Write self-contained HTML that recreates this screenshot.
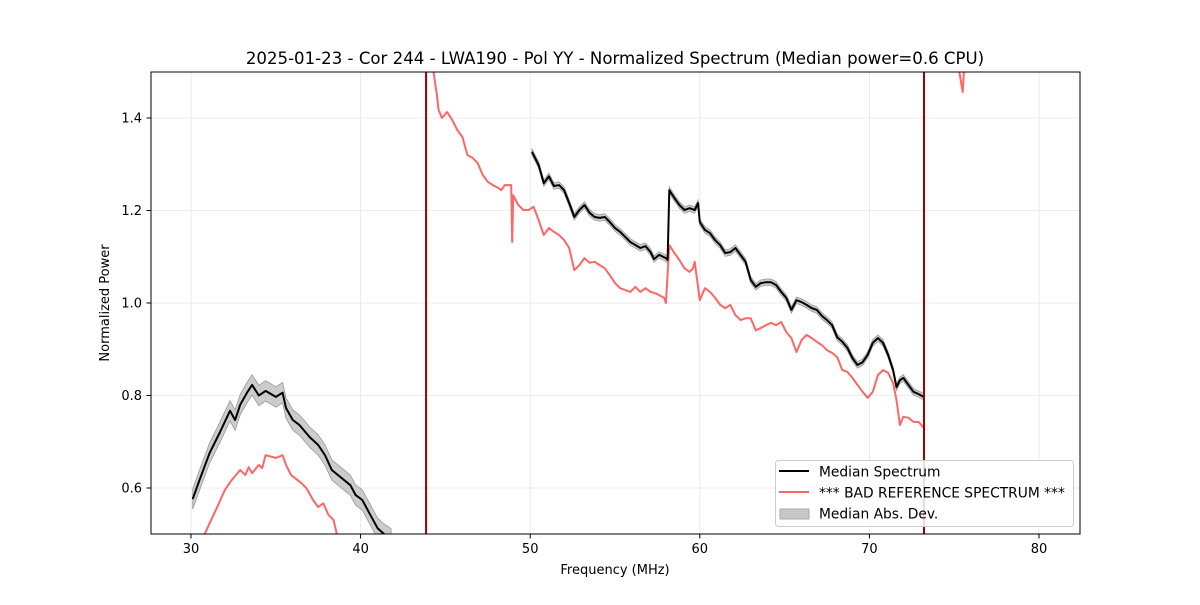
<!DOCTYPE html>
<html><head><meta charset="utf-8"><style>
body{margin:0;background:#fff}
svg{font-family:"DejaVu Sans","Liberation Sans",sans-serif}
</style></head><body>
<svg id="chart" width="1200" height="600" xmlns="http://www.w3.org/2000/svg">
<rect width="1200" height="600" fill="#fff"/>
<text x="615" y="64" text-anchor="middle" font-size="16.6">2025-01-23 - Cor 244 - LWA190 - Pol YY - Normalized Spectrum (Median power=0.6 CPU)</text>
<g id="grid"></g>
<defs><clipPath id="clip"><rect x="151" y="72" width="929" height="462"/></clipPath></defs>
<g id="plot" clip-path="url(#clip)"></g>
<rect x="151" y="72" width="929" height="462" fill="none" stroke="#000" stroke-width="1"/>
<g id="ticks"></g>
<text x="615" y="574" text-anchor="middle" font-size="13">Frequency (MHz)</text>
<text transform="translate(109,303) rotate(-90)" text-anchor="middle" font-size="13">Normalized Power</text>
<g>
<rect x="775.5" y="460.5" width="298" height="66" rx="3" fill="#fff" fill-opacity="0.85" stroke="#ccc"/>
<line x1="779" y1="471" x2="809" y2="471" stroke="#000" stroke-width="2"/>
<text x="819" y="476.5" font-size="13.8">Median Spectrum</text>
<line x1="779" y1="492" x2="809" y2="492" stroke="#ff6666" stroke-width="2"/>
<text x="819" y="497.5" font-size="13.8">*** BAD REFERENCE SPECTRUM ***</text>
<rect x="780" y="509" width="29" height="10" fill="#c8c8c8" stroke="#aaa"/>
<text x="819" y="518.5" font-size="13.8">Median Abs. Dev.</text>
</g>
</svg>
<script>
const xTicks=[30,40,50,60,70,80];
const yTicks=[0.6,0.8,1.0,1.2,1.4];
const yTickLabels=["0.6","0.8","1.0","1.2","1.4"];
const flagFreqs=[43.86,73.22];
const medFreq1=[30.1,30.5,31.1,31.7,32.3,32.6,32.9,33.3,33.6,34.0,34.4,35.0,35.4,35.6,36.0,36.4,37.0,37.5,37.9,38.3,38.8,39.4,39.7,40.1,40.6,41.0,41.4,41.8];
const medVal1=[0.576,0.617,0.676,0.72,0.767,0.747,0.78,0.806,0.823,0.80,0.81,0.797,0.806,0.773,0.747,0.736,0.71,0.693,0.671,0.639,0.624,0.606,0.585,0.574,0.54,0.513,0.5,0.49];
const madVal1=0.022;
const medFreq2=[50.1,50.5,50.8,51.1,51.4,51.7,52.0,52.3,52.6,52.9,53.2,53.5,53.8,54.1,54.4,54.7,55.0,55.3,55.6,55.9,56.5,56.8,57.1,57.3,57.6,58.0,58.1,58.2,58.5,58.8,59.1,59.4,59.7,59.9,60.0,60.3,60.6,60.9,61.2,61.5,61.8,62.1,62.4,62.7,63.0,63.3,63.6,63.9,64.2,64.5,64.8,65.1,65.4,65.7,66.0,66.3,66.6,66.9,67.2,67.5,67.8,68.1,68.4,68.7,69.0,69.3,69.6,69.9,70.2,70.5,70.8,71.1,71.4,71.6,71.8,72.0,72.3,72.6,72.9,73.2];
const medVal2=[1.327,1.298,1.259,1.274,1.253,1.255,1.244,1.216,1.186,1.201,1.212,1.195,1.186,1.184,1.186,1.175,1.162,1.154,1.143,1.132,1.119,1.123,1.110,1.095,1.104,1.097,1.093,1.244,1.227,1.212,1.201,1.205,1.201,1.216,1.175,1.158,1.151,1.136,1.125,1.108,1.110,1.119,1.104,1.089,1.050,1.035,1.043,1.045,1.045,1.039,1.024,1.011,0.985,1.006,1.002,0.996,0.989,0.985,0.972,0.963,0.952,0.926,0.916,0.903,0.881,0.866,0.872,0.888,0.914,0.924,0.914,0.888,0.855,0.818,0.833,0.838,0.823,0.808,0.803,0.797];
const madVal2=0.007;
const badFreq1=[30.8,31.1,31.6,32.0,32.4,32.9,33.2,33.4,33.6,34.0,34.2,34.4,35.0,35.4,35.6,35.9,36.5,36.8,37.2,37.5,37.8,38.1,38.4,38.6];
const badVal1=[0.5,0.524,0.563,0.596,0.617,0.639,0.628,0.645,0.632,0.65,0.643,0.671,0.665,0.671,0.65,0.628,0.611,0.6,0.574,0.559,0.567,0.542,0.531,0.5];
const badFreq2=[44.0,44.3,44.5,44.6,44.8,45.1,45.4,45.7,46.0,46.3,46.6,46.9,47.2,47.5,47.8,48.1,48.3,48.5,48.88,48.94,49.0,49.3,49.6,49.9,50.2,50.5,50.8,51.1,51.4,51.7,52.0,52.3,52.6,52.9,53.2,53.5,53.8,54.1,54.4,54.7,55.0,55.3,55.6,55.9,56.2,56.5,56.8,57.1,57.3,57.5,57.9,58.0,58.2,58.5,58.8,59.1,59.4,59.6,59.7,60.0,60.3,60.6,60.9,61.2,61.5,61.8,62.1,62.4,62.7,63.0,63.3,63.6,63.9,64.2,64.5,64.8,65.1,65.4,65.7,66.0,66.3,66.6,66.9,67.2,67.5,67.8,68.1,68.4,68.7,69.0,69.3,69.6,69.9,70.2,70.5,70.8,71.1,71.4,71.6,71.8,72.0,72.3,72.6,72.9,73.2,73.25];
const badVal2=[1.55,1.5,1.45,1.417,1.4,1.413,1.396,1.374,1.359,1.32,1.314,1.303,1.277,1.262,1.255,1.249,1.244,1.255,1.255,1.132,1.233,1.212,1.201,1.201,1.208,1.179,1.147,1.162,1.154,1.147,1.136,1.119,1.071,1.082,1.097,1.087,1.089,1.082,1.075,1.060,1.043,1.032,1.028,1.024,1.035,1.024,1.032,1.024,1.022,1.019,1.011,1.0,1.125,1.108,1.093,1.075,1.067,1.075,1.089,1.006,1.032,1.024,1.011,0.996,0.989,0.996,0.974,0.963,0.967,0.967,0.941,0.946,0.952,0.957,0.952,0.959,0.937,0.924,0.894,0.920,0.931,0.924,0.916,0.909,0.898,0.892,0.883,0.855,0.851,0.838,0.823,0.808,0.795,0.808,0.844,0.855,0.849,0.827,0.79,0.736,0.754,0.752,0.743,0.743,0.730,0.725,1.6];
const badFreq3=[75.0,75.3,75.5,75.6,75.8];
const badVal3=[1.6,1.5,1.456,1.52,1.6];

const NS="http://www.w3.org/2000/svg";
const X=f=>191+(f-30)*16.96;
const Y=v=>303-(v-1.0)*462.5;
function mk(parent,tag,attrs){const e=document.createElementNS(NS,tag);for(const k in attrs)e.setAttribute(k,attrs[k]);parent.appendChild(e);return e;}
const grid=document.getElementById('grid'),plot=document.getElementById('plot'),ticks=document.getElementById('ticks');
xTicks.forEach(t=>{
  const l=mk(grid,'line',{x1:X(t),x2:X(t),y1:72,y2:534,stroke:'#e6e6e6','stroke-width':0.8});
  
  
  const tk=mk(ticks,'line',{x1:X(t),x2:X(t),y1:534,y2:538.5,stroke:'#000'});
  
  
  const tx=mk(ticks,'text',{x:X(t),y:553,'text-anchor':'middle','font-size':13});
  tx.textContent=t;
  
  
});
yTicks.forEach((t,i)=>{
  const l=mk(grid,'line',{x1:151,x2:1080,y1:Y(t),y2:Y(t),stroke:'#e6e6e6','stroke-width':0.8});
  
  
  const tk=mk(ticks,'line',{x1:146.5,x2:151,y1:Y(t),y2:Y(t),stroke:'#000'});
  
  
  const tx=mk(ticks,'text',{x:142,y:Y(t)+4.5,'text-anchor':'end','font-size':13});
  tx.textContent=yTickLabels[i];
  
  
});
function pts(fs,vs){return fs.map((f,i)=>X(f).toFixed(1)+','+Y(vs[i]).toFixed(1)).join(' ');}
function band(fs,vs,m,name){
  const up=fs.map((f,i)=>X(f).toFixed(1)+','+Y(vs[i]+m).toFixed(1));
  const dn=fs.map((f,i)=>X(f).toFixed(1)+','+Y(vs[i]-m).toFixed(1)).reverse();
  const p=mk(plot,'polygon',{points:up.concat(dn).join(' '),fill:'#bbb','fill-opacity':0.75,stroke:'#999','stroke-width':0.8});
  
  
}
band(medFreq1,medVal1,madVal1,'mad-band-low');
band(medFreq2,medVal2,madVal2,'mad-band-high');
[[badFreq1,badVal1],[badFreq2,badVal2],[badFreq3,badVal3]].forEach(([f,v])=>{
  const p=mk(plot,'polyline',{points:pts(f,v),fill:'none',stroke:'#ff6666','stroke-width':2,'stroke-linejoin':'round'});
  
  
});
[[medFreq1,medVal1],[medFreq2,medVal2]].forEach(([f,v])=>{
  const p=mk(plot,'polyline',{points:pts(f,v),fill:'none',stroke:'#000','stroke-width':2,'stroke-linejoin':'round'});
  
  
});
flagFreqs.forEach(f=>{
  const l=mk(plot,'line',{x1:X(f),x2:X(f),y1:72,y2:534,stroke:'#a00000','stroke-width':2});
  
  
});
</script>
</body></html>
